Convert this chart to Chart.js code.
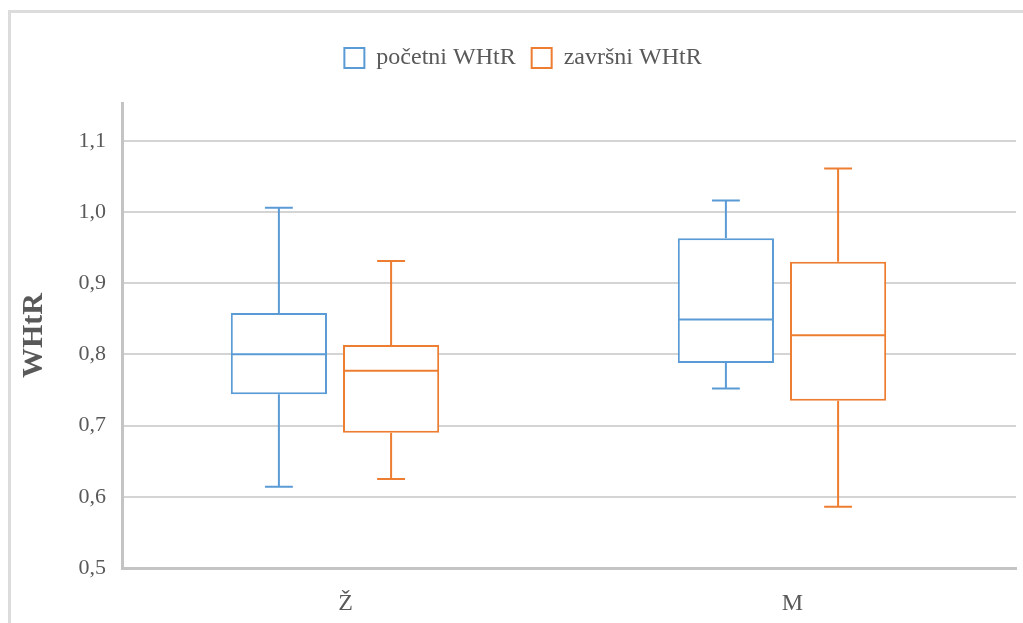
<!DOCTYPE html>
<html>
<head>
<meta charset="utf-8">
<script src="https://cdn.jsdelivr.net/npm/chart.js@4/dist/chart.umd.min.js"></script>
<style>
  html, body { margin: 0; padding: 0; background: #fff; overflow: hidden; width: 1023px; height: 623px; }
  #wrap { position: absolute; left: 0; top: 0; width: 1023px; height: 623px; }
</style>
</head>
<body>
<div id="wrap"><canvas id="chart" width="1023" height="623"></canvas></div>
<script>
// ----------------- Datos -----------------

const categories = ['Ž', 'M'];
const seriesNames = ['početni WHtR', 'završni WHtR'];

// početni WHtR
const pocetniMin = [0.614, 0.752];
const pocetniQ1 = [0.744, 0.788];
const pocetniMedian = [0.800, 0.849];
const pocetniQ3 = [0.858, 0.963];
const pocetniMax = [1.006, 1.016];

// završni WHtR
const zavrsniMin = [0.625, 0.586];
const zavrsniQ1 = [0.690, 0.735];
const zavrsniMedian = [0.777, 0.827];
const zavrsniQ3 = [0.813, 0.930];
const zavrsniMax = [0.931, 1.061];

const yTicks = [0.5, 0.6, 0.7, 0.8, 0.9, 1.0, 1.1];

const palette = {
  blue: '#5b9bd5',
  orange: '#ed7d31',
  text: '#595959',
  grid: '#d4d4d4',
  axis: '#c4c4c4',
  frame: '#dcdcdc'
};

const FONT = "'Liberation Serif', 'Times New Roman', serif";

// las cajas van un poco a la izquierda del centro de cada categoría (como en Excel)
const X_SHIFT = 0.0235;

// ----------------- Marco del gráfico (solo arriba e izquierda) -----------------

const framePlugin = {
  id: 'frame',
  beforeDraw(chart) {
    const ctx = chart.ctx;
    ctx.save();
    ctx.strokeStyle = palette.frame;
    ctx.lineWidth = 3;
    ctx.beginPath();
    ctx.moveTo(9.5, chart.height);
    ctx.lineTo(9.5, 11.5);
    ctx.lineTo(chart.width, 11.5);
    ctx.stroke();
    ctx.restore();
  }
};

// ----------------- Bigotes y medianas -----------------

const whiskerPlugin = {
  id: 'whiskers',
  afterDatasetsDraw(chart) {
    const ctx = chart.ctx;
    const yScale = chart.scales.y;
    chart.data.datasets.forEach((ds, d) => {
      const meta = chart.getDatasetMeta(d);
      meta.data.forEach((bar, i) => {
        const { x, width } = bar.getProps(['x', 'width'], true);
        const half = width / 2 - 1;
        const cap = width * 0.145;
        const yMin = yScale.getPixelForValue(ds.whiskerMin[i]);
        const yMax = yScale.getPixelForValue(ds.whiskerMax[i]);
        const yQ1 = yScale.getPixelForValue(ds.q1[i]);
        const yQ3 = yScale.getPixelForValue(ds.q3[i]);
        const yMed = yScale.getPixelForValue(ds.median[i]);

        ctx.save();
        ctx.strokeStyle = ds.borderColor;
        ctx.lineWidth = 2;
        ctx.beginPath();
        // mediana
        ctx.moveTo(x - half, yMed);
        ctx.lineTo(x + half, yMed);
        // bigote superior
        ctx.moveTo(x, yQ3);
        ctx.lineTo(x, yMax);
        ctx.moveTo(x - cap, yMax);
        ctx.lineTo(x + cap, yMax);
        // bigote inferior
        ctx.moveTo(x, yQ1);
        ctx.lineTo(x, yMin);
        ctx.moveTo(x - cap, yMin);
        ctx.lineTo(x + cap, yMin);
        ctx.stroke();
        ctx.restore();
      });
    });
  }
};

// ----------------- Gráfico -----------------

function makeBoxDataset(label, color, q1, q3, median, min, max) {
  return {
    label,
    data: q1.map((v, i) => ({ x: i + 0.5, y: [v, q3[i]] })),
    q1,
    q3,
    median,
    whiskerMin: min,
    whiskerMax: max,
    backgroundColor: '#ffffff',
    borderColor: color,
    borderWidth: 2,
    borderSkipped: false,
    categoryPercentage: 0.502,
    barPercentage: 0.857
  };
}

function initChart() {
  const ctx = document.getElementById('chart').getContext('2d');

  new Chart(ctx, {
    type: 'bar',
    data: {
      datasets: [
        makeBoxDataset(seriesNames[0], palette.blue, pocetniQ1, pocetniQ3, pocetniMedian, pocetniMin, pocetniMax),
        makeBoxDataset(seriesNames[1], palette.orange, zavrsniQ1, zavrsniQ3, zavrsniMedian, zavrsniMin, zavrsniMax)
      ]
    },
    options: {
      responsive: false,
      animation: false,
      layout: {
        padding: { top: 30, right: 7, bottom: 0, left: 30 }
      },
      plugins: {
        legend: {
          position: 'top',
          labels: {
            boxWidth: 20,
            boxHeight: 20,
            padding: 16,
            color: palette.text,
            font: { family: FONT, size: 24 }
          }
        },
        // separador entre leyenda y área del gráfico
        title: {
          display: true,
          text: '',
          weight: 500,
          padding: 0,
          font: { size: 23, lineHeight: 1 }
        },
        tooltip: { enabled: false }
      },
      scales: {
        x: {
          type: 'linear',
          offset: false,
          min: X_SHIFT,
          max: categories.length + X_SHIFT,
          afterBuildTicks: (scale) => {
            scale.ticks = categories.map((c, i) => ({ value: i + 0.5 + X_SHIFT }));
          },
          grid: { display: false, offset: false },
          border: { display: true, color: palette.axis, width: 3 },
          ticks: {
            color: palette.text,
            padding: 13,
            font: { family: FONT, size: 24 },
            callback: (v, i) => categories[i]
          },
          afterFit: (scale) => { scale.height = 55; }
        },
        y: {
          min: 0.5,
          max: 1.153,
          afterBuildTicks: (scale) => {
            scale.ticks = yTicks.map(v => ({ value: v }));
          },
          grid: { color: palette.grid, lineWidth: 2, drawTicks: false },
          border: { display: true, color: palette.axis, width: 3 },
          ticks: {
            color: palette.text,
            padding: 16,
            font: { family: FONT, size: 22 },
            callback: (v) => Number(v).toFixed(1).replace('.', ',')
          },
          title: {
            display: true,
            text: 'WHtR',
            color: palette.text,
            padding: { top: 0, bottom: 0 },
            font: { family: FONT, size: 30, weight: 'bold', lineHeight: 0.3 }
          },
          afterFit: (scale) => { scale.width = 92; }
        }
      }
    },
    plugins: [framePlugin, whiskerPlugin]
  });
}

document.addEventListener('DOMContentLoaded', initChart);
</script>
</body>
</html>
